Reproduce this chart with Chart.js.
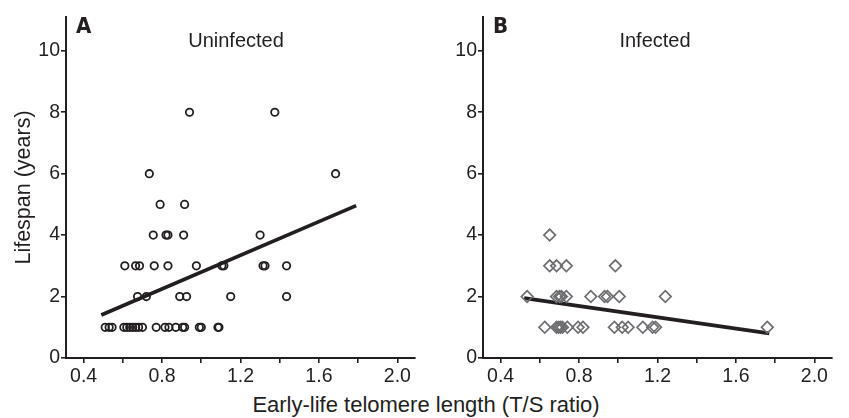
<!DOCTYPE html>
<html>
<head>
<meta charset="utf-8">
<script src="https://cdn.jsdelivr.net/npm/chart.js@4/dist/chart.umd.min.js"></script>
<style>
  html, body { margin: 0; padding: 0; background: #fff; }
  #wrap { position: relative; width: 849px; height: 418px; overflow: hidden; }
  #cA { position: absolute; left: 0; top: 0; }
  #cB { position: absolute; left: 425px; top: 0; }
  #xtitle { position: absolute; left: 0; width: 852px; top: 392px; text-align: center;
            font: 22px/26px "Liberation Sans", Arial, sans-serif; color: #231f20; white-space: nowrap; }
</style>
</head>
<body>
<div id="wrap">
  <canvas id="cA" width="425" height="390"></canvas>
  <canvas id="cB" width="424" height="390"></canvas>
  <div id="xtitle">Early-life telomere length (T/S ratio)</div>
</div>
<script>
// ---- Data ----
// Panel A: Uninfected
const uninfX = [0.51, 0.53, 0.545, 0.605, 0.62, 0.635, 0.65, 0.665, 0.68, 0.70, 0.77, 0.815, 0.835, 0.87, 0.905, 0.915, 0.99, 1.0, 1.085, 1.09,
                0.675, 0.72, 0.89, 0.925, 1.15, 1.435,
                0.61, 0.665, 0.685, 0.76, 0.83, 0.975, 1.105, 1.115, 1.315, 1.325, 1.435,
                0.755, 0.82, 0.83, 0.91, 1.30,
                0.79, 0.915,
                0.735, 1.685,
                0.94, 1.375];
const uninfY = [1, 1, 1, 1, 1, 1, 1, 1, 1, 1, 1, 1, 1, 1, 1, 1, 1, 1, 1, 1,
                2, 2, 2, 2, 2, 2,
                3, 3, 3, 3, 3, 3, 3, 3, 3, 3, 3,
                4, 4, 4, 4, 4,
                5, 5,
                6, 6,
                8, 8];
const uninfFitX = [0.49, 1.79];
const uninfFitY = [1.40, 4.96];

// Panel B: Infected
const infX = [0.65,
              0.65, 0.685, 0.735, 0.985,
              0.535, 0.685, 0.70, 0.71, 0.735, 0.86, 0.93, 0.945, 1.005, 1.24,
              0.625, 0.685, 0.695, 0.705, 0.715, 0.74, 0.795, 0.82, 0.98, 1.02, 1.05, 1.125, 1.175, 1.19, 1.76];
const infY = [4,
              3, 3, 3, 3,
              2, 2, 2, 2, 2, 2, 2, 2, 2, 2,
              1, 1, 1, 1, 1, 1, 1, 1, 1, 1, 1, 1, 1, 1, 1];
const infFitX = [0.52, 1.77];
const infFitY = [1.95, 0.80];

// Axes
const xTicks = [0.4, 0.6, 0.8, 1.0, 1.2, 1.4, 1.6, 1.8, 2.0];
const xLabelTicks = [0.4, 0.8, 1.2, 1.6, 2.0];
const yTicks = [0, 2, 4, 6, 8, 10];
const panelLetters = ['A', 'B'];
const panelTitles = ['Uninfected', 'Infected'];
const yTitle = 'Lifespan (years)';

// ---- Helpers ----
const INK = '#231f20';
const FONT = '"Liberation Sans", Arial, sans-serif';
function pts(xs, ys) { return xs.map((x, i) => ({ x: x, y: ys[i] })); }

function panelTextPlugin(letter, title, letterX, titleX) {
  return {
    id: 'panelText' + letter,
    afterDraw(chart) {
      const ctx = chart.ctx;
      ctx.save();
      ctx.fillStyle = INK;
      ctx.textBaseline = 'alphabetic';
      ctx.textAlign = 'left';
      ctx.font = 'bold 22px "Liberation Sans Narrow", "DejaVu Sans Condensed", "Liberation Sans", sans-serif';
      ctx.fillText(letter, letterX, 33);
      ctx.textAlign = 'center';
      ctx.font = '20px ' + FONT;
      ctx.fillText(title, titleX, 46.5);
      ctx.restore();
    }
  };
}

function makeChart(canvasId, scatterData, fitData, opts) {
  return new Chart(document.getElementById(canvasId), {
    type: 'scatter',
    data: {
      datasets: [
        {
          data: scatterData,
          pointStyle: opts.pointStyle,
          pointRadius: opts.pointRadius,
          pointHoverRadius: opts.pointRadius,
          pointBorderWidth: opts.pointBorderWidth,
          pointBorderColor: opts.pointColor,
          pointBackgroundColor: 'rgba(0,0,0,0)',
          borderColor: opts.pointColor,
          backgroundColor: 'rgba(0,0,0,0)'
        },
        {
          data: fitData,
          showLine: true,
          borderColor: INK,
          borderWidth: 3.7,
          pointRadius: 0,
          pointHoverRadius: 0,
          fill: false
        }
      ]
    },
    options: {
      responsive: false,
      animation: false,
      events: [],
      layout: { padding: { top: 17, right: opts.padRight, left: 0, bottom: 0 } },
      plugins: { legend: { display: false }, tooltip: { enabled: false }, title: { display: false } },
      scales: {
        x: {
          type: 'linear',
          min: 0.31, max: 2.09,
          afterBuildTicks: (axis) => { axis.ticks = xTicks.map(v => ({ value: v })); },
          afterFit: (axis) => { axis.height = 32; },
          border: { display: true, color: INK, width: 2 },
          grid: { drawOnChartArea: false, drawTicks: true, tickLength: 5, color: INK, lineWidth: 1.6 },
          ticks: {
            autoSkip: false, maxRotation: 0, padding: 2,
            color: INK, font: { family: FONT, size: 19.5 },
            callback: (v) => xLabelTicks.some(t => Math.abs(t - v) < 1e-6) ? Number(v).toFixed(1) : ''
          }
        },
        y: {
          type: 'linear',
          min: 0, max: 11.1,
          afterBuildTicks: (axis) => { axis.ticks = yTicks.map(v => ({ value: v })); },
          afterFit: (axis) => { axis.width = opts.yWidth; },
          border: { display: true, color: INK, width: 2 },
          grid: { drawOnChartArea: false, drawTicks: true, tickLength: 5, color: INK, lineWidth: 1.6 },
          ticks: {
            autoSkip: false, padding: 1,
            color: INK, font: { family: FONT, size: 19.5 },
            callback: (v) => String(v)
          },
          title: opts.yTitle ? {
            display: true, text: opts.yTitle, color: INK,
            font: { family: FONT, size: 21.5 },
            padding: { top: 11, bottom: 0 }
          } : { display: false }
        }
      }
    },
    plugins: [panelTextPlugin(opts.letter, opts.title, opts.letterX, opts.titleX)]
  });
}

makeChart('cA', pts(uninfX, uninfY), pts(uninfFitX, uninfFitY), {
  pointStyle: 'circle', pointRadius: 3.7, pointBorderWidth: 1.8, pointColor: INK,
  padRight: 10, yWidth: 66, yTitle: yTitle,
  letter: panelLetters[0], title: panelTitles[0], letterX: 76, titleX: 236
});

makeChart('cB', pts(infX, infY), pts(infFitX, infFitY), {
  pointStyle: 'rectRot', pointRadius: 5.8, pointBorderWidth: 1.7, pointColor: '#6d6e71',
  padRight: 17, yWidth: 58, yTitle: null,
  letter: panelLetters[1], title: panelTitles[1], letterX: 493 - 425, titleX: 655 - 425
});
</script>
</body>
</html>
